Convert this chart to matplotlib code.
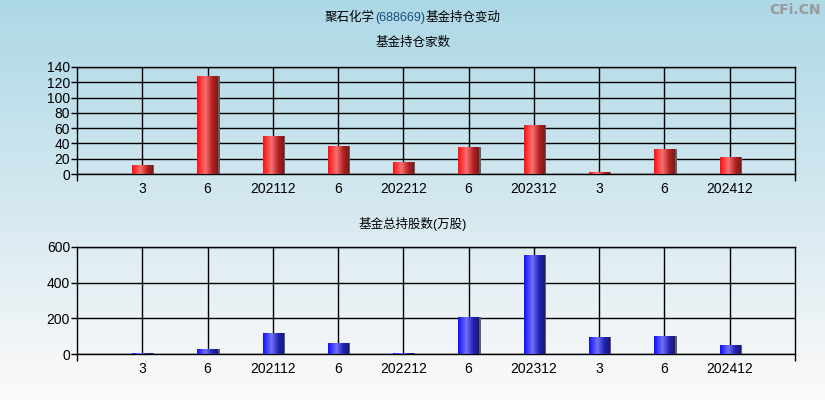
import matplotlib
matplotlib.use('agg')
import matplotlib.pyplot as plt
import numpy as np
from matplotlib.colors import LinearSegmentedColormap

plt.rcParams['font.family'] = ['Liberation Sans', 'Noto Sans CJK SC', 'DejaVu Sans']

labels = ['3', '6', '202112', '6', '202212', '6', '202312', '3', '6', '202412']
fund_count = [12, 128, 50, 36, 16, 35, 64, 2, 33, 22]
fund_shares = [5, 28, 119, 62, 4, 209, 557, 97, 103, 52]

fig = plt.figure(figsize=(8.25, 4), dpi=100)

# background gradient
bg = fig.add_axes([0, 0, 1, 1], zorder=-10)
bg_cmap = LinearSegmentedColormap.from_list('bg', ['#add8e6', '#d4e8f0', '#fdfafa'])
bg.imshow(np.linspace(0, 1, 256).reshape(-1, 1), aspect='auto', cmap=bg_cmap,
          extent=[0, 1, 0, 1])
bg.set_axis_off()

red_cmap = LinearSegmentedColormap.from_list(
    'red', [(0, '#ff1010'), (0.4, '#f87070'), (0.75, '#b02020'), (1, '#801818')])
blue_cmap = LinearSegmentedColormap.from_list(
    'blue', [(0, '#1010ff'), (0.4, '#7070f8'), (0.75, '#2020b0'), (1, '#181880')])
grad = np.linspace(0, 1, 64).reshape(1, -1)


def panel(rect, values, ymax, ystep, cmap):
    ax = fig.add_axes(rect)
    ax.set_facecolor('none')
    x = np.arange(1, len(values) + 1)
    w = 0.31
    # shadow
    ax.bar(x + 0.03, values, width=w, color='#606060', zorder=2)
    bars = ax.bar(x, values, width=w, color='none', zorder=3)
    for b in bars:
        im = ax.imshow(grad, cmap=cmap, aspect='auto', zorder=3,
                       extent=[b.get_x(), b.get_x() + b.get_width(), 0, b.get_height()])
        im.set_clip_path(b)
    ax.set_xlim(0, 11)
    ax.set_ylim(0, ymax)
    ax.set_xticks(x)
    ax.set_xticklabels(labels)
    ax.set_xticks([0, 11], minor=True)
    ax.set_yticks(np.arange(0, ymax + 1, ystep))
    ax.tick_params(axis='x', which='major', length=0, pad=6, labelsize=10)
    ax.tick_params(axis='x', which='minor', length=5, width=1, color='black')
    ax.tick_params(axis='y', length=4, width=1, pad=1, labelsize=10)
    ax.grid(True, color='black', linewidth=1, zorder=1)
    ax.set_axisbelow(True)
    for s in ax.spines.values():
        s.set_color('black')
        s.set_linewidth(1)
    return ax


panel([0.0933, 0.565, 0.8703, 0.2675], fund_count, 140, 20, red_cmap)
panel([0.0933, 0.115, 0.8703, 0.2675], fund_shares, 600, 200, blue_cmap)

# titles
fig.canvas.draw()
r = fig.canvas.get_renderer()
parts = [('聚石化学', 'black'), ('(688669)', '#1a4a80'), ('基金持仓变动', 'black')]
texts = []
for s, c in parts:
    t = fig.text(0, 1 - 18 / 400, s, color=c, fontsize=9, va='center', ha='left')
    texts.append(t)
widths = [t.get_window_extent(r).width / fig.bbox.width for t in texts]
x0 = 0.5 - sum(widths) / 2
for t, wd in zip(texts, widths):
    t.set_x(x0)
    x0 += wd

fig.text(0.5, 1 - 43 / 400, '基金持仓家数', ha='center', va='center', fontsize=9)
fig.text(0.5, 1 - 224 / 400, '基金总持股数(万股)', ha='center', va='center', fontsize=9)
fig.text(0.995, 1 - 10 / 400, 'CFi.CN', ha='right', va='center', fontsize=10,
         color='#9a9a9a', family='DejaVu Sans', fontweight='bold')

fig.savefig('out.png', dpi=100)
